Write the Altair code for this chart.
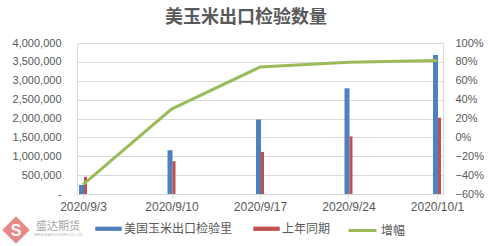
import altair as alt
import pandas as pd

dates = ["2020/9/3", "2020/9/10", "2020/9/17", "2020/9/24", "2020/10/1"]
us_exports = [240000, 1160000, 1975000, 2800000, 3680000]
last_year = [455000, 870000, 1115000, 1525000, 2020000]
growth = [-0.50, 0.30, 0.745, 0.795, 0.815]

S1 = "美国玉米出口检验里"
S2 = "上年同期"
S3 = "增幅"

BLUE = "#4F81BD"
RED = "#C0504D"
GREEN = "#9BBB59"
GREY = "#595959"
GRID = "#D9D9D9"

df_bar = pd.DataFrame({
    "date": dates * 2,
    "value": us_exports + last_year,
    "series": [S1] * len(dates) + [S2] * len(dates),
})
df_line = pd.DataFrame({"date": dates, "growth": growth, "series": [S3] * len(dates)})

xscale = alt.Scale(type="point", domain=dates, padding=0.068)
xaxis = alt.Axis(
    title=None, labelFont="Liberation Sans", labelFontSize=12, labelColor=GREY,
    domainColor=GRID, tickColor=GRID, tickSize=4, labelPadding=3, grid=False,
    labelAngle=0,
)
yleft = alt.Axis(
    title=None, values=list(range(0, 4000001, 500000)), labelFont="Liberation Sans",
    labelFontSize=11, labelColor=GREY, domain=False, ticks=False, tickSize=0,
    labelPadding=16, gridColor=GRID, gridWidth=1, labelOverlap=False,
    labelExpr="datum.value == 0 ? '-\u2002' : format(datum.value, ',')",
)
yright = alt.Axis(
    title=None, orient="right", values=[-0.6, -0.4, -0.2, 0, 0.2, 0.4, 0.6, 0.8, 1.0],
    format=".0%", labelFont="Liberation Sans", labelFontSize=11, labelColor=GREY,
    domain=False, ticks=False, tickSize=0, labelPadding=12, grid=False, labelOverlap=False,
)
yscale_left = alt.Scale(domain=[0, 4000000], nice=False, zero=True)

fill_scale = alt.Scale(domain=[S1, S2], range=[BLUE, RED])
fill_legend = alt.Legend(
    title=None, orient="none", legendX=18, legendY=172, direction="horizontal",
    symbolType="M-1,-0.16H1V0.16H-1Z", symbolSize=700, symbolStrokeWidth=0,
    labelFont="Noto Sans CJK SC", labelFontSize=12, labelColor=GREY,
    labelOffset=2, columnPadding=20, padding=0,
)
stroke_legend = alt.Legend(
    title=None, orient="none", legendX=270, legendY=172, direction="horizontal",
    symbolType="stroke", symbolSize=784, symbolStrokeWidth=3,
    labelFont="Noto Sans CJK SC", labelFontSize=12, labelColor=GREY,
    labelOffset=3, padding=0,
)

bars_blue = alt.Chart(df_bar).transform_filter(alt.datum.series == S1).mark_bar(
    width=5, xOffset=-1.5
).encode(
    x=alt.X("date:N", scale=xscale, axis=xaxis, sort=dates),
    y=alt.Y("value:Q", scale=yscale_left, axis=yleft),
    fill=alt.Fill("series:N", scale=fill_scale, legend=fill_legend),
)
bars_red = alt.Chart(df_bar).transform_filter(alt.datum.series == S2).mark_bar(
    width=3, xOffset=2.5
).encode(
    x=alt.X("date:N", scale=xscale, axis=xaxis, sort=dates),
    y=alt.Y("value:Q", scale=yscale_left, axis=yleft),
    fill=alt.Fill("series:N", scale=fill_scale, legend=fill_legend),
)
bars = alt.layer(bars_blue, bars_red)

line = alt.Chart(df_line).mark_line(strokeWidth=3).encode(
    x=alt.X("date:N", scale=xscale, axis=xaxis, sort=dates),
    y=alt.Y("growth:Q", scale=alt.Scale(domain=[-0.6, 1.0], nice=False, zero=False), axis=yright),
    stroke=alt.Stroke("series:N", scale=alt.Scale(domain=[S3], range=[GREEN]), legend=stroke_legend),
)

logo_df = pd.DataFrame({"t": ["盛达期货"], "e": ["SHENGDA FUTURES CO.,LTD"], "s": ["S"]})
logo_shape = alt.Chart(logo_df).mark_point(
    shape="diamond", filled=True, color="#E57373", opacity=0.85, size=760
).encode(x=alt.value(-61), y=alt.value(187))
logo_s = alt.Chart(logo_df).mark_text(
    font="Liberation Sans", fontSize=16, fontWeight="bold", color="white"
).encode(x=alt.value(-61), y=alt.value(188), text="s:N")
logo_text = alt.Chart(logo_df).mark_text(
    font="Noto Sans CJK SC", fontSize=11, color="#A6A6A6"
).encode(x=alt.value(-19), y=alt.value(184), text="t:N")
logo_en = alt.Chart(logo_df).mark_text(
    font="Liberation Sans", fontSize=3.5, color="#B0B0B0"
).encode(x=alt.value(-19), y=alt.value(192), text="e:N")

chart = alt.layer(
    bars, line, logo_shape, logo_s, logo_text, logo_en
).resolve_scale(
    y="independent"
).properties(
    width=366, height=151,
    padding={"left": 77, "top": 43, "right": 49, "bottom": 52},
    autosize=alt.AutoSizeParams(type="none"),
    title=alt.TitleParams(
        "美玉米出口检验数量", font="Noto Sans CJK SC", fontSize=18, fontWeight=600,
        color=GREY, anchor="middle", frame="group", dx=-14, offset=10,
    ),
).configure_view(
    stroke=None
).configure(
    background="white"
)

chart.save("out.html", embed_options={"renderer": "svg", "actions": False})
